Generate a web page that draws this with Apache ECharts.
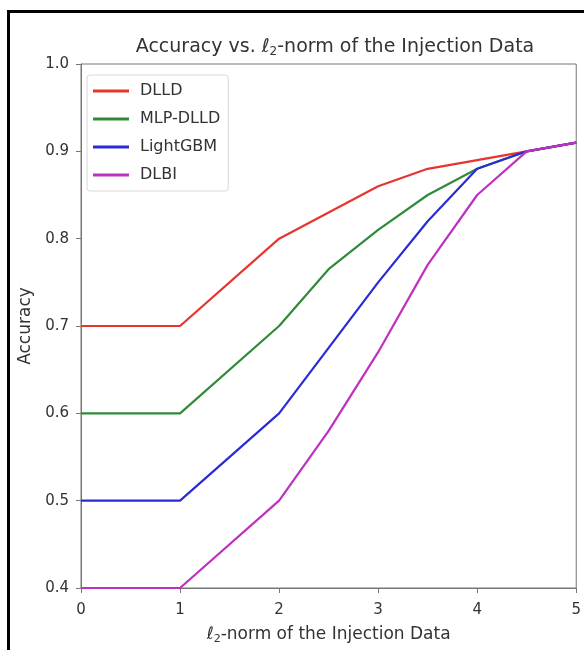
<!DOCTYPE html>
<html>
<head>
<meta charset="utf-8">
<script src="https://cdn.jsdelivr.net/npm/echarts@6/dist/echarts.min.js"></script>
<style>
  html, body { margin: 0; padding: 0; background: #fff; }
  #chart { width: 584px; height: 650px; }
</style>
</head>
<body>
<div id="chart"></div>
<script>
// l2-norm values on the x axis
const normVals = [0, 1, 2, 2.5, 3, 3.5, 4, 4.5, 5];

// accuracy per method
const dlld = [0.70, 0.70, 0.80, 0.83, 0.86, 0.88, 0.89, 0.90, 0.91];
const mlpDlld = [0.60, 0.60, 0.70, 0.765, 0.81, 0.85, 0.88, 0.90, 0.91];
const lightGbm = [0.50, 0.50, 0.60, 0.675, 0.75, 0.82, 0.88, 0.90, 0.91];
const dlbi = [0.40, 0.40, 0.50, 0.58, 0.67, 0.77, 0.85, 0.90, 0.91];

const seriesNames = ['DLLD', 'MLP-DLLD', 'LightGBM', 'DLBI'];
const seriesColors = ['#e8342f', '#2e8b38', '#2b2bd6', '#c030c0'];

const font = 'DejaVu Sans';
const textColor = '#333';

function pairs(ys) {
  return normVals.map((x, i) => [x, ys[i]]);
}

const chart = echarts.init(document.getElementById('chart'));

const option = {
  animation: false,
  backgroundColor: '#fff',
  textStyle: { fontFamily: font },
  title: {
    text: '{a|Accuracy vs. }{i|ℓ}{s|2}{a|-norm of the Injection Data}',
    left: 330,
    textAlign: 'center',
    top: 31,
    textStyle: {
      fontWeight: 'normal',
      rich: {
        a: { fontFamily: font, fontSize: 19, color: textColor, fontWeight: 'normal' },
        i: { fontFamily: font, fontSize: 19, color: textColor, fontStyle: 'italic', fontWeight: 'normal' },
        s: { fontFamily: font, fontSize: 12, color: textColor, fontWeight: 'normal', padding: [10, 0, 0, 0] }
      }
    }
  },
  legend: {
    orient: 'vertical',
    left: 87,
    top: 75,
    padding: [8, 8, 8, 6],
    itemGap: 12,
    itemWidth: 36,
    itemHeight: 3,
    icon: 'rect',
    borderColor: '#d8d8d8',
    borderWidth: 1,
    borderRadius: 3,
    backgroundColor: '#fff',
    textStyle: { fontFamily: font, fontSize: 16, color: textColor, lineHeight: 16, padding: [0, 0, 0, 6] },
    data: seriesNames
  },
  grid: {
    left: 81,
    right: 6,
    top: 64,
    bottom: 61,
    show: true,
    borderColor: '#777',
    borderWidth: 1
  },
  xAxis: {
    type: 'value',
    min: 0,
    max: 5,
    interval: 1,
    name: '{i|ℓ}{s|2}{a|-norm of the Injection Data}',
    nameLocation: 'middle',
    nameGap: 37,
    nameTextStyle: {
      rich: {
        a: { fontFamily: font, fontSize: 17, color: textColor },
        i: { fontFamily: font, fontSize: 17, color: textColor, fontStyle: 'italic' },
        s: { fontFamily: font, fontSize: 11, color: textColor, padding: [9, 0, 0, 0] }
      }
    },
    axisLine: { show: true, lineStyle: { color: '#777' } },
    axisTick: { show: true, length: 5, lineStyle: { color: '#777' } },
    axisLabel: { fontSize: 15, color: textColor, margin: 15 },
    splitLine: { show: false }
  },
  yAxis: {
    type: 'value',
    min: 0.4,
    max: 1.0,
    interval: 0.1,
    name: 'Accuracy',
    nameLocation: 'middle',
    nameGap: 44,
    nameTextStyle: { fontFamily: font, fontSize: 17, color: textColor },
    axisLine: { show: true, lineStyle: { color: '#777' } },
    axisTick: { show: true, length: 5, lineStyle: { color: '#777' } },
    axisLabel: {
      fontSize: 15,
      color: textColor,
      margin: 12,
      formatter: v => v.toFixed(1)
    },
    splitLine: { show: false }
  },
  graphic: [
    // black frame around the picture (left and top edges)
    { type: 'rect', shape: { x: 7, y: 10, width: 3, height: 640 }, style: { fill: '#000' } },
    { type: 'rect', shape: { x: 7, y: 10, width: 577, height: 3 }, style: { fill: '#000' } }
  ],
  series: [dlld, mlpDlld, lightGbm, dlbi].map((ys, i) => ({
    name: seriesNames[i],
    type: 'line',
    data: pairs(ys),
    showSymbol: false,
    symbol: 'none',
    smooth: false,
    color: seriesColors[i],
    lineStyle: { width: 2.2, color: seriesColors[i] }
  }))
};

chart.setOption(option);
</script>
</body>
</html>
